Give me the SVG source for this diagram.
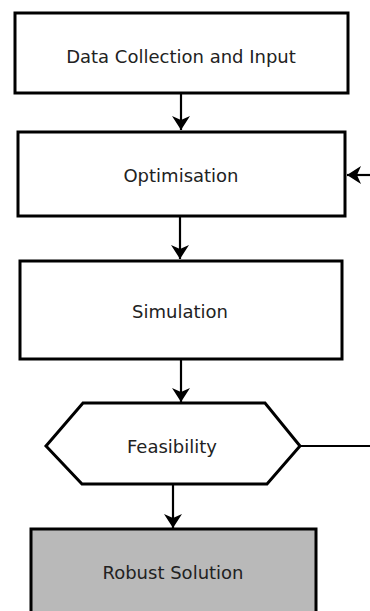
<svg xmlns="http://www.w3.org/2000/svg" width="370" height="611" viewBox="0 0 370 611">
<style>
.box{fill:#fff;stroke:#000;stroke-width:3}
.final{fill:#b9b9b9;stroke:#000;stroke-width:3}
.lbl{font-family:"DejaVu Sans",Verdana,sans-serif;font-size:18px;fill:#222;text-anchor:middle}
.conn{fill:none;stroke:#000;stroke-width:2.2}
</style>
<defs>
<marker id="ah" markerUnits="userSpaceOnUse" viewBox="-14 -9 14 18" refX="0" refY="0" markerWidth="14" markerHeight="18" orient="auto">
<path d="M-14,-9 L0,0 L-14,9 L-10,0 z" fill="#000"/>
</marker>
</defs>
<rect width="370" height="611" fill="#fff"/>
<g id="connectors">
<line class="conn" x1="181" y1="93" x2="181" y2="130" marker-end="url(#ah)"/>
<line class="conn" x1="370" y1="175" x2="347" y2="175" marker-end="url(#ah)"/>
<line class="conn" x1="180" y1="216" x2="180" y2="259" marker-end="url(#ah)"/>
<line class="conn" x1="181" y1="359" x2="181" y2="402" marker-end="url(#ah)"/>
<line class="conn" x1="300" y1="446" x2="370" y2="446"/>
<line class="conn" x1="173" y1="484" x2="173" y2="528" marker-end="url(#ah)"/>
</g>
<g id="data-collection">
<rect class="box" x="15" y="13" width="333" height="80"/>
<text class="lbl" x="181" y="63">Data Collection and Input</text>
</g>
<g id="optimisation">
<rect class="box" x="18" y="132" width="327" height="84"/>
<text class="lbl" x="181" y="182">Optimisation</text>
</g>
<g id="simulation">
<rect class="box" x="20" y="261" width="322" height="98"/>
<text class="lbl" x="180" y="318">Simulation</text>
</g>
<g id="feasibility">
<polygon class="box" points="46,446 83,403 265,403 300,446 267,484 82,484"/>
<text class="lbl" x="172" y="453">Feasibility</text>
</g>
<g id="robust-solution">
<rect class="final" x="31" y="529" width="285" height="90"/>
<text class="lbl" x="173" y="579">Robust Solution</text>
</g>
</svg>
